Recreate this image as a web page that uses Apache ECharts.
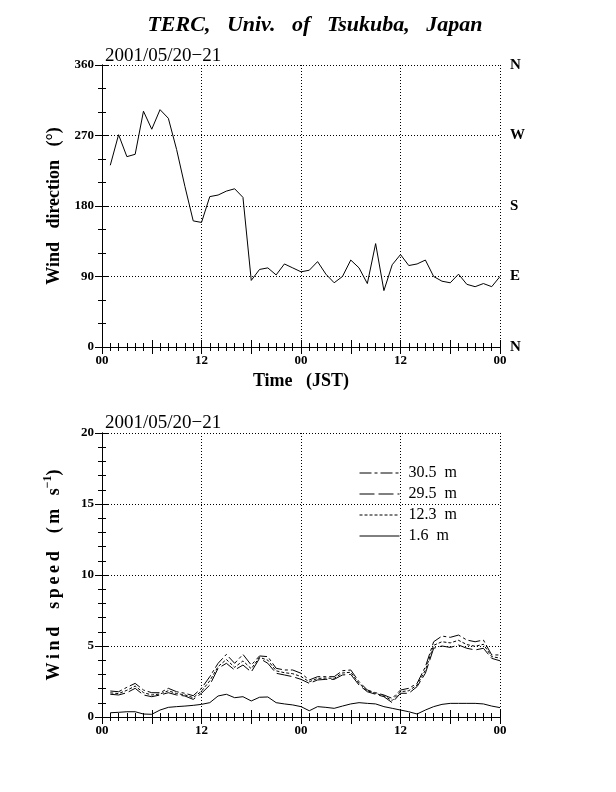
<!DOCTYPE html>
<html>
<head>
<meta charset="utf-8">
<script src="https://cdn.jsdelivr.net/npm/echarts@6/dist/echarts.min.js"></script>
<style>
  html, body { margin: 0; padding: 0; background: #fff; }
  #main { width: 616px; height: 792px; }
</style>
</head>
<body>
<div id="main"></div>
<script>
// hours since 2001/05/20 00 JST
const hours = [1, 2, 3, 4, 5, 6, 7, 8, 9, 10, 11, 12, 13, 14, 15, 16, 17, 18, 19, 20, 21, 22, 23, 24,
  25, 26, 27, 28, 29, 30, 31, 32, 33, 34, 35, 36, 37, 38, 39, 40, 41, 42, 43, 44, 45, 46, 47, 48];

// wind direction (deg)
const windDir = [232, 271, 243, 246, 301, 278, 303, 292, 252, 205, 161, 159,
  192, 194, 199, 202, 191, 85, 99, 101, 92, 106, 101, 96,
  98, 109, 93, 82, 90, 111, 101, 81, 132, 72, 105, 118,
  104, 106, 111, 90, 84, 82, 93, 80, 77, 81, 77, 90];

// wind speed (m/s) by height
const speed305 = [1.83, 1.78, 2.09, 2.37, 1.90, 1.71, 1.71, 2.02, 1.78, 1.67, 1.50, 2.02,
  2.84, 3.78, 4.41, 3.78, 4.41, 3.66, 4.30, 4.25, 3.43, 3.31, 3.31, 3.08,
  2.61, 2.84, 2.84, 2.84, 3.26, 3.31, 2.49, 1.90, 1.71, 1.55, 1.31, 1.90,
  2.02, 2.37, 3.54, 5.30, 5.70, 5.61, 5.77, 5.42, 5.30, 5.42, 4.37, 4.37];
const speed123 = [1.70, 1.65, 1.88, 2.18, 1.72, 1.55, 1.62, 1.85, 1.65, 1.56, 1.36, 1.82,
  2.55, 3.55, 4.05, 3.50, 3.95, 3.40, 4.20, 4.00, 3.25, 3.12, 3.05, 2.85,
  2.48, 2.72, 2.74, 2.72, 3.10, 3.15, 2.36, 1.84, 1.66, 1.48, 1.16, 1.78,
  1.85, 2.25, 3.30, 5.05, 5.30, 5.22, 5.40, 5.10, 4.98, 5.12, 4.25, 4.15];
const speed295 = [1.60, 1.55, 1.71, 2.02, 1.55, 1.43, 1.55, 1.71, 1.55, 1.48, 1.24, 1.67,
  2.25, 3.43, 3.78, 3.31, 3.66, 3.17, 4.13, 3.78, 3.08, 2.96, 2.84, 2.65,
  2.37, 2.61, 2.65, 2.65, 2.96, 3.00, 2.25, 1.78, 1.60, 1.43, 1.01, 1.67,
  1.67, 2.14, 3.08, 4.84, 5.00, 4.90, 5.07, 4.84, 4.72, 4.84, 4.13, 3.96];
const speed16 = [0.30, 0.33, 0.37, 0.37, 0.21, 0.19, 0.49, 0.68, 0.73, 0.77, 0.82, 0.89,
  1.01, 1.48, 1.60, 1.36, 1.43, 1.13, 1.39, 1.41, 1.01, 0.92, 0.85, 0.73,
  0.44, 0.73, 0.68, 0.61, 0.77, 0.92, 1.01, 0.96, 0.92, 0.73, 0.61, 0.49,
  0.37, 0.21, 0.49, 0.73, 0.89, 0.96, 0.96, 0.96, 0.96, 0.92, 0.77, 0.66];

const timeTicks = ['00', '12', '00', '12', '00'];
const compass = { 0: 'N', 90: 'E', 180: 'S', 270: 'W', 360: 'N' };

const serif = 'Liberation Serif';
const black = '#000';
const ts = '\u2009'; // thin space, used to spread the axis titles like the original

function pair(vals) {
  return hours.map((h, i) => [h, vals[i]]);
}

function spread(word) {
  return word.split('').join(ts);
}

const tickLine = { color: black, width: 1 };

// three x axes per grid: labelled bottom one, top one, 6-hour long ticks
function xAxes(grid, showName) {
  return [
    {
      gridIndex: grid, type: 'value', min: 0, max: 48, interval: 12, position: 'bottom',
      name: showName ? 'Time   (JST)' : '', nameLocation: 'middle', nameGap: 25,
      nameTextStyle: { fontFamily: serif, fontWeight: 'bold', fontSize: 18, color: black },
      axisLine: { lineStyle: { color: black, width: 1 } },
      axisTick: { inside: true, length: 7, lineStyle: tickLine },
      minorTick: { show: true, splitNumber: 12, length: 4, lineStyle: tickLine },
      axisLabel: {
        margin: 7, fontFamily: serif, fontWeight: 'bold', fontSize: 13, color: black,
        formatter: v => timeTicks[v / 12]
      },
      splitLine: { show: true, lineStyle: { color: black, type: [1, 2], width: 1 } }
    },
    {
      gridIndex: grid, type: 'value', min: 0, max: 48, interval: 6, position: 'top',
      axisLine: { lineStyle: { color: black, width: 1 } },
      axisTick: { inside: true, length: 7, lineStyle: tickLine },
      minorTick: { show: true, splitNumber: 6, length: 4, lineStyle: tickLine },
      axisLabel: { show: false },
      splitLine: { show: false }
    },
    {
      gridIndex: grid, type: 'value', min: 0, max: 48, interval: 6, position: 'bottom',
      axisLine: { show: false },
      axisTick: { inside: true, length: 7, lineStyle: tickLine },
      axisLabel: { show: false },
      splitLine: { show: false }
    }
  ];
}

const labelStyle = { fontFamily: serif, fontWeight: 'bold', fontSize: 13, color: black };
const nameStyle = { fontFamily: serif, fontWeight: 'bold', fontSize: 18, color: black };

const option = {
  backgroundColor: '#fff',
  animation: false,
  title: [
    {
      text: 'TERC,   Univ.   of   Tsukuba,   Japan', left: 310, top: 9, textAlign: 'center',
      textStyle: { fontFamily: serif, fontWeight: 'bold', fontStyle: 'italic', fontSize: 22, color: black }
    },
    {
      text: '2001/05/20\u221221', left: 100, top: 42,
      textStyle: { fontFamily: serif, fontWeight: 'normal', fontSize: 19, color: black }
    },
    {
      text: '2001/05/20\u221221', left: 100, top: 409,
      textStyle: { fontFamily: serif, fontWeight: 'normal', fontSize: 19, color: black }
    }
  ],
  legend: {
    orient: 'vertical', left: 354, top: 460,
    itemWidth: 40, itemHeight: 14, itemGap: 5,
    itemStyle: { opacity: 0 },
    lineStyle: { width: 1 },
    textStyle: { fontFamily: serif, fontSize: 16, color: black, padding: [0, 0, 0, 4] },
    data: ['30.5  m', '29.5  m', '12.3  m', '1.6  m']
  },
  grid: [
    { left: 102, top: 65, width: 398, height: 282 },
    { left: 102, top: 433, width: 398, height: 284 }
  ],
  xAxis: [].concat(xAxes(0, true), xAxes(1, false)),
  yAxis: [
    {
      gridIndex: 0, type: 'value', min: 0, max: 360, interval: 90, position: 'left',
      name: 'Wind   direction   (\u00b0)', nameLocation: 'middle', nameGap: 36, nameRotate: 90,
      nameTextStyle: nameStyle,
      axisLine: { show: true, lineStyle: { color: black } },
      axisTick: { show: true, inside: true, length: 7, lineStyle: tickLine },
      minorTick: { show: true, splitNumber: 3, length: 4, lineStyle: tickLine },
      axisLabel: Object.assign({ margin: 8 }, labelStyle),
      splitLine: { show: true, lineStyle: { color: black, type: [1, 2], width: 1 } }
    },
    {
      gridIndex: 0, type: 'value', min: 0, max: 360, interval: 90, position: 'right',
      axisLine: { show: true, lineStyle: { color: black } },
      axisTick: { show: true, inside: true, length: 7, lineStyle: tickLine },
      minorTick: { show: true, splitNumber: 3, length: 4, lineStyle: tickLine },
      axisLabel: Object.assign({ margin: 10, formatter: v => compass[v] }, labelStyle, { fontSize: 15 }),
      splitLine: { show: false }
    },
    {
      gridIndex: 1, type: 'value', min: 0, max: 20, interval: 5, position: 'left',
      name: spread('Wind') + '    ' + spread('speed') + '    ' + spread('(m') + '   s{sup|\u22121})',
      nameLocation: 'middle', nameGap: 36, nameRotate: 90,
      nameTextStyle: Object.assign({
        rich: { sup: { fontFamily: serif, fontWeight: 'bold', fontSize: 12, color: black, verticalAlign: 'top', lineHeight: 24 } }
      }, nameStyle, { lineHeight: 24 }),
      axisLine: { show: true, lineStyle: { color: black } },
      axisTick: { show: true, inside: true, length: 7, lineStyle: tickLine },
      minorTick: { show: true, splitNumber: 5, length: 4, lineStyle: tickLine },
      axisLabel: Object.assign({ margin: 8 }, labelStyle),
      splitLine: { show: true, lineStyle: { color: black, type: [1, 2], width: 1 } }
    },
    {
      gridIndex: 1, type: 'value', min: 0, max: 20, interval: 5, position: 'right',
      axisLine: { show: true, lineStyle: { color: black } },
      axisTick: { show: true, inside: true, length: 7, lineStyle: tickLine },
      minorTick: { show: true, splitNumber: 5, length: 4, lineStyle: tickLine },
      axisLabel: { show: false },
      splitLine: { show: false }
    }
  ],
  series: [
    {
      name: 'direction', type: 'line', xAxisIndex: 0, yAxisIndex: 0,
      data: pair(windDir), symbol: 'none', itemStyle: { color: black },
      lineStyle: { color: black, width: 1 }
    },
    {
      name: '30.5  m', type: 'line', xAxisIndex: 3, yAxisIndex: 2,
      data: pair(speed305), symbol: 'none', itemStyle: { color: black },
      lineStyle: { color: black, width: 1, type: [12, 3, 3, 3] }
    },
    {
      name: '29.5  m', type: 'line', xAxisIndex: 3, yAxisIndex: 2,
      data: pair(speed295), symbol: 'none', itemStyle: { color: black },
      lineStyle: { color: black, width: 1, type: [15, 4] }
    },
    {
      name: '12.3  m', type: 'line', xAxisIndex: 3, yAxisIndex: 2,
      data: pair(speed123), symbol: 'none', itemStyle: { color: black },
      lineStyle: { color: black, width: 1, type: [3, 2] }
    },
    {
      name: '1.6  m', type: 'line', xAxisIndex: 3, yAxisIndex: 2,
      data: pair(speed16), symbol: 'none', itemStyle: { color: black },
      lineStyle: { color: black, width: 1 }
    }
  ]
};

const chart = echarts.init(document.getElementById('main'));
chart.setOption(option);
</script>
</body>
</html>
